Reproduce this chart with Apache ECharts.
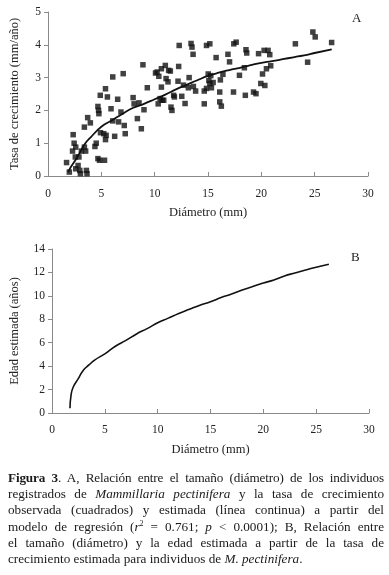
<!DOCTYPE html>
<html>
<head>
<meta charset="utf-8">
<script src="https://cdn.jsdelivr.net/npm/echarts@6/dist/echarts.min.js"></script>
<style>
  html, body { margin: 0; padding: 0; background: #fff; }
  #wrap { position: relative; width: 389px; height: 575px; overflow: hidden; }
  #chart { position: absolute; left: 0; top: 0; width: 389px; height: 575px; }
  #caption { position: absolute; left: 8px; top: 470px; width: 376px;
    font-family: "Liberation Serif", "Times New Roman", serif; font-size: 13.2px;
    line-height: 16.2px; color: #1a1a1a; }
  #caption div { text-align: justify; text-align-last: justify; white-space: nowrap; }
  #caption div.first { letter-spacing: -0.15px; word-spacing: -2px; }
  #caption div.last { text-align-last: left; }
</style>
</head>
<body>
<div id="wrap">
  <div id="chart"></div>
  <div id="caption">
    <div class="first"><b>Figura 3</b>. A, Relación entre el tamaño (diámetro) de los individuos</div>
    <div>registrados de <i>Mammillaria pectinifera</i> y la tasa de crecimiento</div>
    <div>observada (cuadrados) y estimada (línea continua) a partir del</div>
    <div>modelo de regresión (<i>r</i><sup style="font-size:8px;line-height:0">2</sup> = 0.761; <i>p</i> &lt; 0.0001); B, Relación entre</div>
    <div>el tamaño (diámetro) y la edad estimada a partir de la tasa de</div>
    <div class="last">crecimiento estimada para individuos de <i>M. pectinifera</i>.</div>
  </div>
</div>
<script>
// Panel A: observed growth rate (squares)
const obsDiameter = [
  1.74,2.0,2.36,2.45,2.3,2.6,2.56,2.6,2.82,2.98,2.9,3.04,3.13,3.41,3.53,3.41,3.72,3.6,3.66,3.97,
  4.4,4.52,4.68,4.74,4.9,4.77,4.68,4.83,4.92,5.23,5.3,5.39,5.57,5.39,5.45,5.91,6.07,6.07,6.25,6.53,
  6.62,6.84,7.05,7.15,7.24,7.98,8.07,8.38,8.53,8.75,8.9,9.0,9.31,10.08,10.23,10.33,10.39,10.51,10.63,10.63,
  10.7,10.85,11.0,11.07,11.25,11.31,11.47,11.53,11.62,11.78,11.85,12.19,12.3,12.25,12.54,12.7,12.85,13.16,13.23,13.41,
  13.5,13.6,13.63,13.84,14.65,14.65,14.86,14.86,15.17,15.02,15.08,15.26,15.32,15.48,15.17,15.76,16.1,16.16,16.1,16.25,
  16.4,16.87,17.02,17.39,17.42,17.64,17.95,18.41,18.5,18.56,18.63,19.27,19.5,19.74,19.95,20.11,20.26,20.33,20.48,20.63,
  20.79,20.88,23.19,24.34,24.83,25.05,26.59
];
const obsRate = [
  0.41,0.12,1.26,1.0,0.76,0.88,0.58,0.22,0.32,0.17,0.58,0.07,0.76,0.88,0.76,1.49,1.78,0.17,0.07,1.62,
  0.9,1.0,2.12,2.0,2.46,1.9,0.53,0.48,1.32,1.29,0.48,2.66,2.41,1.11,1.24,2.05,3.02,1.68,1.21,2.34,
  1.65,1.95,3.12,1.54,1.29,2.39,2.2,1.75,2.23,1.44,3.39,2.02,2.69,3.14,3.17,2.2,3.04,2.36,3.27,2.71,
  2.31,2.31,3.37,2.97,2.87,3.22,3.2,2.1,2.0,2.46,2.41,2.89,3.98,3.34,2.43,2.77,2.21,2.69,3.0,4.04,
  3.93,3.71,2.73,2.59,2.2,2.59,2.67,3.98,4.03,3.11,2.91,3.06,2.69,2.85,2.82,3.61,2.56,2.93,2.26,2.13,
  3.1,3.71,3.48,2.56,4.03,4.08,3.07,3.3,2.46,3.85,3.75,2.56,2.51,3.73,2.82,3.11,3.83,2.76,3.27,3.83,
  3.7,3.36,4.03,3.47,4.39,4.24,4.07
];
// Panel A: estimated growth rate (continuous line)
const fitDiameter = [1.9,2.1,2.7,3.1,3.5,4,5,6,7,8,9,10,11,12,13,14,15,16,17,18,19,20,21,22,23,24,25,26.6];
const fitRate =     [0.12,0.25,0.55,0.78,1.0,1.18,1.5,1.7,1.9,2.08,2.2,2.34,2.48,2.64,2.78,2.92,3.05,3.15,3.23,3.3,3.38,3.45,3.5,3.56,3.62,3.68,3.75,3.86];
// Panel B: estimated age
const ageDiameter = [1.7,1.8,2,2.5,3,3.5,4,5,6,7,8,9,10,11,12,13,14,15,16,17,18,19,20,21,22,23,24,25,26.2];
const ageYears =    [0.4,1.5,2.2,2.95,3.7,4.1,4.5,5.05,5.7,6.2,6.75,7.2,7.7,8.1,8.5,8.85,9.2,9.5,9.85,10.15,10.5,10.8,11.1,11.35,11.7,11.95,12.2,12.45,12.7];
const xTicks = [0,5,10,15,20,25,30];

const FONT = '"Liberation Serif", "Times New Roman", serif';
const zip = (a, b) => a.map((v, i) => [v, b[i]]);

const axisCommon = {
  axisLine: { show: true, lineStyle: { color: '#8a8a8a', width: 1 } },
  splitLine: { show: false },
  axisLabel: { color: '#222', fontFamily: FONT, fontSize: 11.5 },
  nameTextStyle: { color: '#222', fontFamily: FONT, fontSize: 12.5 }
};

const chart = echarts.init(document.getElementById('chart'), null, { renderer: 'canvas' });
chart.setOption({
  animation: false,
  backgroundColor: '#fff',
  grid: [
    { left: 45, right: 21, top: 12, height: 164 },
    { left: 50, right: 20, top: 249, height: 164 }
  ],
  xAxis: [
    Object.assign({}, axisCommon, {
      gridIndex: 0, type: 'value', min: 0, max: 30, interval: 5,
      name: 'Diámetro (mm)', nameLocation: 'middle', nameGap: 30,
      axisTick: { show: true, inside: true, length: 4, lineStyle: { color: '#8a8a8a' } },
      axisLabel: Object.assign({}, axisCommon.axisLabel, { margin: 12 })
    }),
    Object.assign({}, axisCommon, {
      gridIndex: 1, type: 'value', min: 0, max: 30, interval: 5,
      name: 'Diámetro (mm)', nameLocation: 'middle', nameGap: 30,
      axisTick: { show: true, inside: true, length: 4, lineStyle: { color: '#8a8a8a' } },
      axisLabel: Object.assign({}, axisCommon.axisLabel, { margin: 11 })
    })
  ],
  yAxis: [
    Object.assign({}, axisCommon, {
      gridIndex: 0, type: 'value', min: 0, max: 5, interval: 1,
      name: 'Tasa de crecimiento (mm/año)', nameLocation: 'middle', nameGap: 27,
      axisTick: { show: true, inside: false, length: 4, lineStyle: { color: '#8a8a8a' } },
      axisLabel: Object.assign({}, axisCommon.axisLabel, { margin: 7 })
    }),
    Object.assign({}, axisCommon, {
      gridIndex: 1, type: 'value', min: 0, max: 14, interval: 2,
      name: 'Edad estimada (años)', nameLocation: 'middle', nameGap: 31,
      axisTick: { show: true, inside: false, length: 4, lineStyle: { color: '#8a8a8a' } },
      axisLabel: Object.assign({}, axisCommon.axisLabel, { margin: 7 })
    })
  ],
  series: [
    {
      type: 'scatter', xAxisIndex: 0, yAxisIndex: 0,
      data: zip(obsDiameter, obsRate),
      symbol: 'rect', symbolSize: 5.5,
      itemStyle: { color: '#111' }
    },
    {
      type: 'line', xAxisIndex: 0, yAxisIndex: 0,
      data: zip(fitDiameter, fitRate),
      smooth: true, showSymbol: false,
      lineStyle: { color: '#111', width: 1.8 }
    },
    {
      type: 'line', xAxisIndex: 1, yAxisIndex: 1,
      data: zip(ageDiameter, ageYears),
      smooth: true, showSymbol: false,
      lineStyle: { color: '#111', width: 1.6 }
    }
  ],
  graphic: [
    { type: 'text', left: 352, top: 12, style: { text: 'A', font: '13px ' + FONT, fill: '#222' } },
    { type: 'text', left: 351, top: 251, style: { text: 'B', font: '13px ' + FONT, fill: '#222' } }
  ]
});
</script>
</body>
</html>
